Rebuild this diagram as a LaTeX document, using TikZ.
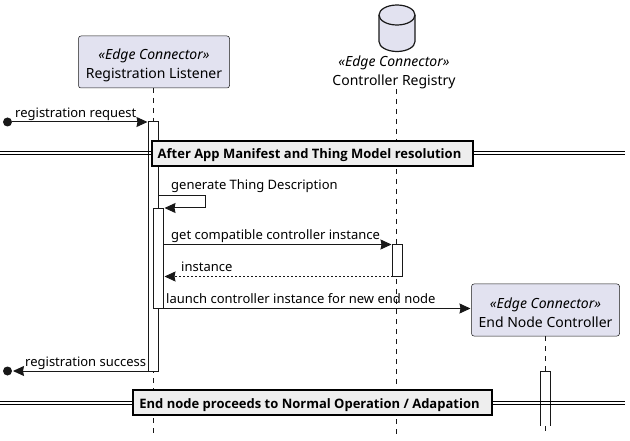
\documentclass[tikz,border=0pt]{standalone}
\usepackage{fontspec}
\setmainfont{Noto Sans}
\newfontfamily\sepfont{Open Sans}
\usetikzlibrary{positioning}
\usetikzlibrary{arrows.meta}
\definecolor{boxfill}{HTML}{E2E2F0}
\definecolor{linecol}{HTML}{181818}
\definecolor{sepfill}{HTML}{EEEEEE}
\newcommand{\edgestereo}{\rule{0pt}{17pt}\textit{«Edge Connector»}}
\tikzset{
  participant/.style={draw=linecol, line width=0.5pt, fill=boxfill, rounded corners=2.5pt, align=center, minimum height=52pt, outer sep=0pt, inner sep=0pt, font=\fontsize{14}{19}\selectfont},
  lifeline/.style={draw=linecol, line width=0.5pt, dash pattern=on 5pt off 5pt},
  actbar/.style={draw=linecol, fill=white, line width=1pt, minimum width=10pt, outer sep=0pt, inner sep=0pt},
  msg/.style={draw=linecol, line width=1pt, -{Stealth[length=11pt,width=10pt,inset=1pt]}, shorten >=1pt},
  reply/.style={msg, dash pattern=on 2pt off 2pt},
  msglabel/.style={anchor=base west, inner sep=0pt, font=\fontsize{13}{15}\selectfont, text=black},
  dot/.style={circle, fill=linecol, minimum size=9pt, inner sep=0pt, outer sep=0pt},
  separator/.style={draw=black, line width=2pt, fill=sepfill, minimum height=25pt, text height=12pt, text depth=1pt, inner sep=0pt, outer sep=0pt, font=\fontsize{13}{15}\sepfont\bfseries},
  sepline/.style={draw=black, line width=1pt},
}
\begin{document}
\begin{tikzpicture}[x=1pt, y=-1pt]
  \useasboundingbox (0,0) rectangle (630,441);

  % Participants
  \node (listener) [participant, minimum width=151pt] at (154,62) {\edgestereo\\Registration Listener};
  \node (endctrl) [participant, minimum width=148pt] at (545.5,310) {\edgestereo\\End Node Controller};

  % Database
  \draw[draw=linecol, line width=1.2pt, fill=boxfill] (379,15) arc[start angle=180, end angle=0, x radius=18pt, y radius=10pt]
    -- (415,41.5) arc[start angle=0, end angle=-180, x radius=18pt, y radius=10pt] -- cycle;
  \draw[draw=linecol, line width=1.2pt] (379,15) arc[start angle=180, end angle=360, x radius=18pt, y radius=10pt];
  \node (registry) [align=center, inner sep=0pt, font=\fontsize{14}{19}\selectfont] at (394,72) {\textit{«Edge Connector»}\\Controller Registry};

  % Lifelines
  \coordinate (listenerend) at (153.5,435);
  \coordinate (registrytop) at (396.5,89);
  \coordinate (registryend) at (396.5,435);
  \coordinate (endctrlend) at (545.5,435);
  \draw[lifeline] (listener.south -| listenerend) -- (listenerend);
  \draw[lifeline] (registrytop) -- (registryend);
  \draw[lifeline] (endctrl.south) -- (endctrlend);

  % Activations
  \node (actouter) [actbar, minimum height=249pt] at (153.5,246.5) {};
  \node (actinner) [actbar, minimum height=100pt] at (158.5,258.5) {};
  \node (actregistry) [actbar, minimum height=32pt] at (397.5,260.5) {};
  \fill[white] (540.5,371) rectangle (550.5,425.5);
  \coordinate (actendtl) at (540.5,371);
  \coordinate (actendtr) at (550.5,371);
  \coordinate (actendbl) at (540.5,425.5);
  \coordinate (actendbr) at (550.5,425.5);
  \draw[draw=linecol, line width=1pt] (actendbl) -- (actendtl) -- (actendtr) -- (actendbr);

  % Free ends
  \node (startdot) [dot] at (7.5,122) {};
  \node (enddot) [dot] at (7.5,371) {};
  \coordinate (selfa) at (205.5,195.5);
  \coordinate (selfb) at (205.5,208);

  % Messages
  \draw[msg] (startdot) -- (actouter.north west);
  \draw[msg] (selfa -| actouter.east) -- (selfa) -- (selfb) -- (selfb -| actinner.east);
  \draw[msg] (actregistry.north west -| actinner.east) -- (actregistry.north west);
  \draw[reply] (actregistry.south west) -- (actregistry.south west -| actinner.east);
  \draw[msg] (actinner.south east) -- (actinner.south east -| endctrl.west);
  \draw[msg] (actouter.south west) -- (enddot);

  % Labels
  \node (lblrequest) [msglabel] at (15,118) {registration request};
  \node (lblgenerate) [msglabel] at (171,190) {generate Thing Description};
  \node (lblget) [msglabel] at (171,240) {get compatible controller instance};
  \node (lblinstance) [msglabel] at (181,272) {instance};
  \node (lbllaunch) [msglabel] at (166,304) {launch controller instance for new end node};
  \node (lblsuccess) [msglabel] at (25,366) {registration success};

  % Separators
  \coordinate (sepaleft) at (0,153.5);
  \coordinate (separight) at (625,153.5);
  \coordinate (sepbleft) at (0,402.5);
  \coordinate (sepbright) at (625,402.5);
  \draw[sepline] ([yshift=-1.5pt]sepaleft) -- ([yshift=-1.5pt]separight);
  \draw[sepline] ([yshift=1.5pt]sepaleft) -- ([yshift=1.5pt]separight);
  \draw[sepline] ([yshift=-1.5pt]sepbleft) -- ([yshift=-1.5pt]sepbright);
  \draw[sepline] ([yshift=1.5pt]sepbleft) -- ([yshift=1.5pt]sepbright);
  \node (sepa) [separator, minimum width=321pt] at (312.5,153.5) {\hspace*{-6pt}After App Manifest and Thing Model resolution};
  \node (sepb) [separator, minimum width=359pt] at (312.5,402.5) {\hspace*{-6pt}End node proceeds to Normal Operation / Adapation};
\end{tikzpicture}
\end{document}
